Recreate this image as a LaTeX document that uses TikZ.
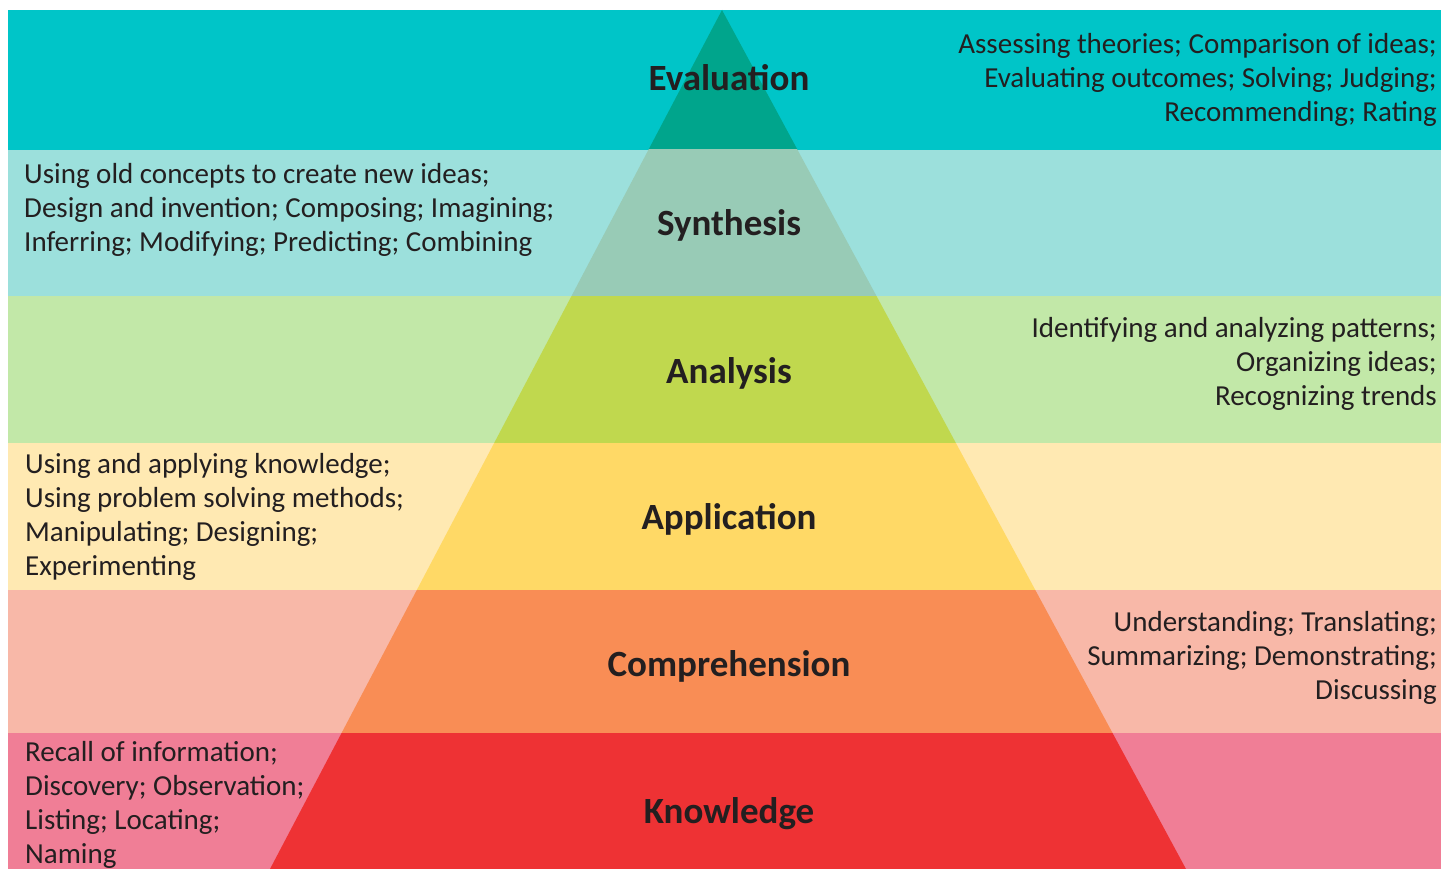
\documentclass[tikz,border=0pt]{standalone}
\usepackage{fontspec}
\setmainfont{Carlito}
\definecolor{txt}{HTML}{231F20}
\definecolor{bandA}{HTML}{00C5C8}
\definecolor{triA}{HTML}{00A58C}
\definecolor{bandB}{HTML}{9CE0DC}
\definecolor{triB}{HTML}{98CBB6}
\definecolor{bandC}{HTML}{C2E8A8}
\definecolor{triC}{HTML}{C0D84E}
\definecolor{bandD}{HTML}{FFE9B2}
\definecolor{triD}{HTML}{FFD966}
\definecolor{bandE}{HTML}{F8B8A8}
\definecolor{triE}{HTML}{F98D55}
\definecolor{bandF}{HTML}{F07E96}
\definecolor{triF}{HTML}{EE3234}
\tikzset{
  desc/.style={inner sep=0pt, text=txt, font=\fontsize{29}{34}\selectfont},
  descL/.style={desc, anchor=base west, align=left},
  descR/.style={desc, anchor=base east, align=right},
  level/.style={inner sep=0pt, anchor=base, text=txt, font=\fontsize{37}{44}\selectfont\bfseries},
}
\newcommand{\levelband}[4]{%
  \fill[#3] (8,#1) rectangle (1441,#2);
  \begin{scope}
    \clip (8,#1) rectangle (1441,#2);
    \fill[#4] (722,10) -- (270,869) -- (1186,869) -- cycle;
  \end{scope}}
\begin{document}
\begin{tikzpicture}[x=1pt,y=-1pt]
\useasboundingbox (0,0) rectangle (1441,869);
\fill[white] (0,0) rectangle (1441,869);
\levelband{10}{150}{bandA}{triA}
\levelband{150}{296}{bandB}{triB}
\levelband{296}{443}{bandC}{triC}
\levelband{443}{590}{bandD}{triD}
\levelband{590}{733}{bandE}{triE}
\levelband{733}{869}{bandF}{triF}

\node[level] (eval) at (729,91) {Evaluation};
\node[level] (synt) at (729,236) {Synthesis};
\node[level] (anal) at (729,383) {Analysis};
\node[level] (appl) at (729,529) {Application};
\node[level] (comp) at (729,676) {Comprehension};
\node[level] (know) at (729,823) {Knowledge};

\node[descR] (evaltxt) at (1437,122) {Assessing theories; Comparison of ideas;\\Evaluating outcomes; Solving; Judging;\\Recommending; Rating};
\node[descL] (synttxt) at (24,252) {Using old concepts to create new ideas;\\Design and invention; Composing; Imagining;\\Inferring; Modifying; Predicting; Combining};
\node[descR] (analtxt) at (1437,405) {Identifying and analyzing patterns;\\Organizing ideas;\\Recognizing trends};
\node[descL] (appltxt) at (25,575) {Using and applying knowledge;\\Using problem solving methods;\\Manipulating; Designing;\\Experimenting};
\node[descR] (comptxt) at (1437,699) {Understanding; Translating;\\Summarizing; Demonstrating;\\Discussing};
\node[descL] (knowtxt) at (25,863) {Recall of information;\\Discovery; Observation;\\Listing; Locating;\\Naming};
\end{tikzpicture}
\end{document}
